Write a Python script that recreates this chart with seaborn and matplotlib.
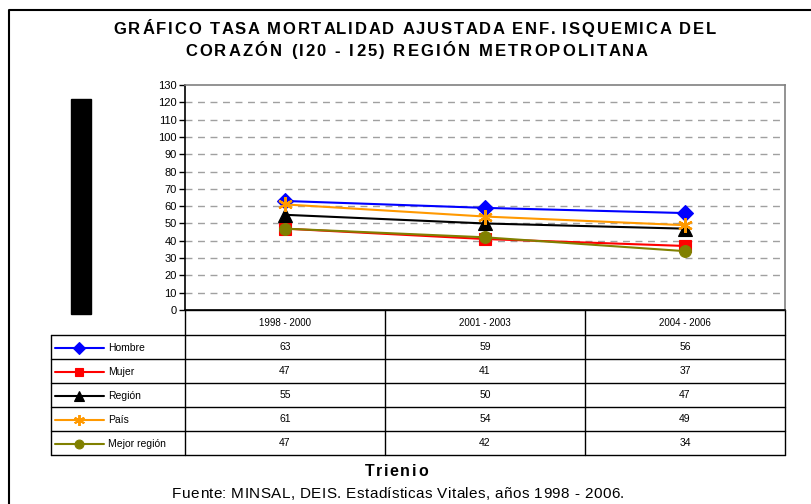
import matplotlib
matplotlib.use('Agg')
import matplotlib.pyplot as plt
import seaborn as sns
import pandas as pd

# datos
trienios = ['1998 - 2000', '2001 - 2003', '2004 - 2006']
series = ['Hombre', 'Mujer', 'Región', 'País', 'Mejor región']
hombre = [63, 59, 56]
mujer = [47, 41, 37]
region = [55, 50, 47]
pais = [61, 54, 49]
mejor_region = [47, 42, 34]
yticks = list(range(0, 140, 10))

colores = {'Hombre': '#0000FF', 'Mujer': '#FF0000', 'Región': '#000000',
           'País': '#FF9900', 'Mejor región': '#808000'}
marcadores = {'Hombre': 'D', 'Mujer': 's', 'Región': '^',
              'País': (6, 2, 0), 'Mejor región': 'o'}
tamanos = {'Hombre': 8.5, 'Mujer': 8, 'Región': 9.5, 'País': 10.5, 'Mejor región': 8.5}

valores = [hombre, mujer, region, pais, mejor_region]
df = pd.DataFrame({'Trienio': trienios * len(series),
                   'pos': list(range(len(trienios))) * len(series),
                   'Serie': [s for s in series for _ in trienios],
                   'Valor': [v for vals in valores for v in vals]})

sns.set_theme(style='white')
plt.rcParams['font.family'] = ['Liberation Sans', 'DejaVu Sans']
plt.rcParams['text.color'] = 'black'
plt.rcParams['ytick.color'] = 'black'
plt.rcParams['ytick.labelcolor'] = 'black'

W, H = 812, 504
fig = plt.figure(figsize=(W / 100, H / 100), dpi=100)

# capa de fondo en pixeles para marco, tabla y textos
lay = fig.add_axes([0, 0, 1, 1], zorder=0)
lay.set_xlim(0, W)
lay.set_ylim(H, 0)
lay.axis('off')
rend = fig.canvas.get_renderer()


def ancho_txt(txt, size, weight):
    t = lay.text(0, 0, txt, fontsize=size, fontweight=weight)
    w = t.get_window_extent(rend).width
    t.remove()
    return w


def texto_espaciado(xc, y, s, size, ancho, weight='normal'):
    # texto con espaciado entre letras para ocupar el ancho dado
    barra = ancho_txt('|', size, weight)
    pos = [0] + [ancho_txt(s[:i] + '|', size, weight) - barra for i in range(1, len(s))]
    natural = ancho_txt(s, size, weight)
    extra = (ancho - natural) / (len(s) - 1)
    xi = xc - ancho / 2
    for i, ch in enumerate(s):
        if ch != ' ':
            lay.text(xi + pos[i] + i * extra, y, ch, fontsize=size, fontweight=weight,
                     ha='left', va='baseline')


# marco exterior
lay.plot([9, 9, W + 5], [H + 5, 10, 10], color='black', lw=1.5)

# rectangulo negro (etiqueta eje y tapada)
lay.add_patch(plt.Rectangle((71, 99), 20, 215, color='black'))

# titulo
texto_espaciado(415, 34, 'GRÁFICO TASA MORTALIDAD AJUSTADA ENF. ISQUEMICA DEL', 12, 603, 'bold')
texto_espaciado(416.5, 56, 'CORAZÓN (I20 - I25) REGIÓN METROPOLITANA', 12, 463, 'bold')

# area del grafico
x0, x1, ytop, ybot = 185, 785, 85, 310
ax = fig.add_axes([x0 / W, 1 - ybot / H, (x1 - x0) / W, (ybot - ytop) / H], zorder=2)
ax.patch.set_alpha(0)

sns_markers = {s: ('P' if s == 'País' else m) for s, m in marcadores.items()}
sns.lineplot(data=df, x='pos', y='Valor', hue='Serie', style='Serie',
             hue_order=series, style_order=series, palette=colores,
             markers=sns_markers, dashes=False, legend=False, ax=ax, linewidth=1.5)
for line, s in zip(ax.lines, series):
    line.set_marker(marcadores[s])
    line.set_markeredgecolor(colores[s])
    line.set_markersize(tamanos[s])
    line.set_markeredgewidth(1.6 if s == 'País' else 0.8)

ax.set_xlim(-0.5, len(trienios) - 0.5)
ax.set_ylim(0, 130)
ax.set_yticks(yticks)
ax.set_xticks([])
ax.set_xlabel('')
ax.set_ylabel('')
ax.tick_params(axis='y', length=4, width=1, labelsize=8, pad=2, left=True)
for y in yticks[1:-1]:
    ax.axhline(y, color='#A0A0A0', lw=1, ls=(0, (5, 4)), zorder=0)
ax.spines['left'].set_color('black')
ax.spines['bottom'].set_color('black')
ax.spines['top'].set_color('#808080')
ax.spines['right'].set_color('#808080')
for sp in ax.spines.values():
    sp.set_linewidth(1.2)

# tabla de datos
tl, cols = 51, [185, 385, 585, 785]
filas = [335 + 24 * i for i in range(len(series) + 1)]
lay.plot([cols[0], cols[-1]], [310, 310], color='black', lw=1)
for y in filas:
    lay.plot([tl, cols[-1]], [y, y], color='black', lw=1)
lay.plot([tl, tl], [filas[0], filas[-1]], color='black', lw=1)
for c in cols:
    lay.plot([c, c], [310, filas[-1]], color='black', lw=1)

for j, t in enumerate(trienios):
    lay.text((cols[j] + cols[j + 1]) / 2, 323, t,
             ha='center', va='center', fontsize=7)

for i, (s, vals) in enumerate(zip(series, valores)):
    yc = (filas[i] + filas[i + 1]) / 2 + 1
    lay.plot([55, 104], [yc, yc], color=colores[s], lw=1.5)
    lay.plot([79], [yc], marker=marcadores[s], color=colores[s],
             markersize=tamanos[s] * 0.75, mec=colores[s],
             mew=1.4 if s == 'País' else 0.8)
    lay.text(108, yc, s, ha='left', va='center', fontsize=7.5)
    for j, v in enumerate(vals):
        lay.text((cols[j] + cols[j + 1]) / 2, yc - 1, str(v),
                 ha='center', va='center', fontsize=7.5)

# textos inferiores
texto_espaciado(396.5, 476, 'Trienio', 11.5, 63, 'bold')
texto_espaciado(398, 498, 'Fuente: MINSAL, DEIS. Estadísticas Vitales, años 1998 - 2006.', 11, 452)

fig.savefig('out.png', dpi=100)
